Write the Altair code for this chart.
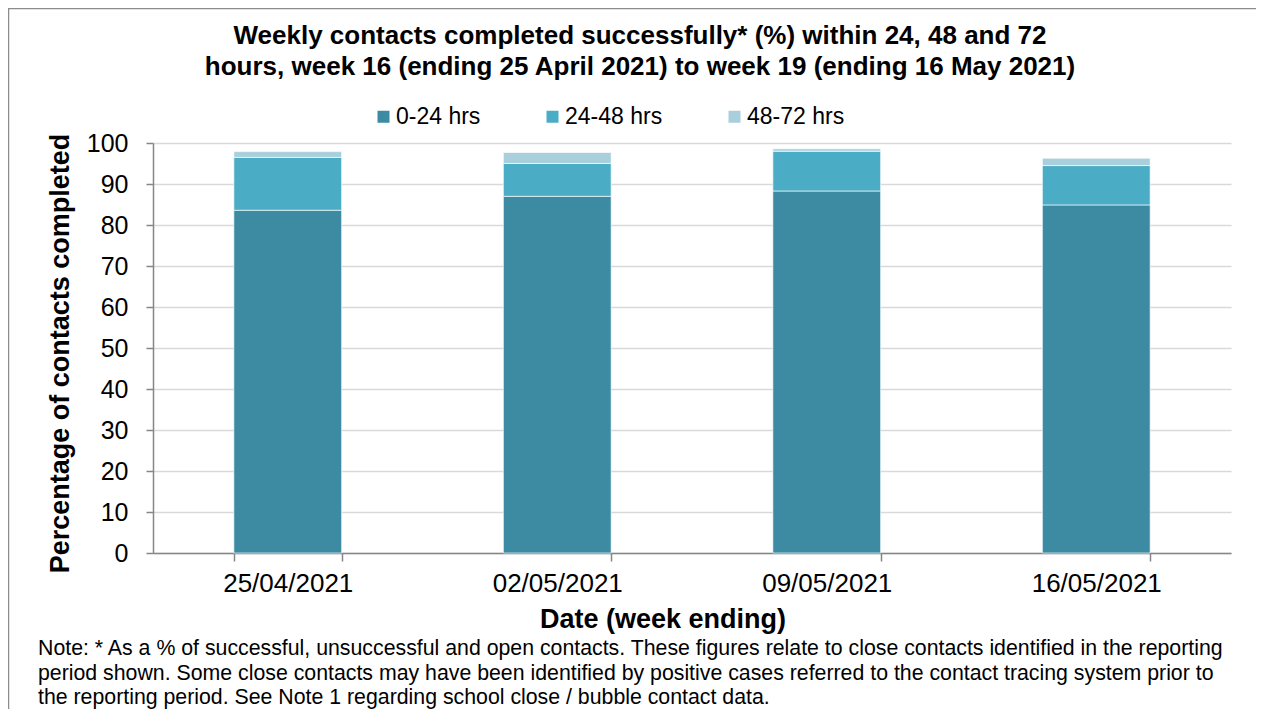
import altair as alt
import pandas as pd

weeks = ["25/04/2021", "02/05/2021", "09/05/2021", "16/05/2021"]
bands = ["0-24 hrs", "24-48 hrs", "48-72 hrs"]
v_0_24 = [83.6, 87.0, 88.3, 84.9]
v_24_48 = [12.9, 8.0, 9.7, 9.6]
v_48_72 = [1.4, 2.7, 0.6, 1.8]
colors = ["#3C8BA3", "#4BACC6", "#A9CFDD"]

title_lines = [
    "Weekly contacts completed successfully* (%) within 24, 48 and 72",
    "hours, week 16 (ending 25 April 2021) to week 19 (ending 16 May 2021)",
]
note_lines = [
    "Note: * As a % of successful, unsuccessful and open contacts. These figures relate to close contacts identified in the reporting",
    "period shown. Some close contacts may have been identified by positive cases referred to the contact tracing system prior to",
    "the reporting period. See Note 1 regarding school close / bubble contact data.",
]

FONT = "Liberation Sans"
W, H = 1078, 410

rows = []
for i, w in enumerate(weeks):
    for j, (b, vals) in enumerate(zip(bands, [v_0_24, v_24_48, v_48_72])):
        rows.append({"week": w, "band": b, "value": vals[i], "order": j})
df = pd.DataFrame(rows)

bars = alt.Chart(df).mark_bar(stroke="white", strokeWidth=0.8, strokeOpacity=0.8).encode(
    x=alt.X(
        "week:N",
        sort=weeks,
        scale=alt.Scale(paddingInner=0.6, paddingOuter=0.3),
        axis=alt.Axis(
            title="Date (week ending)",
            labelAngle=0,
            labelFontSize=26,
            labelColor="black",
            labelPadding=9,
            tickBand="extent",
            tickSize=8,
            tickColor="#868686",
            tickWidth=1.5,
            domainColor="#868686",
            domainWidth=1.5,
            titleFontSize=27,
            titleFontWeight="bold",
            titleColor="black",
            titleX=509.5,
            titleY=74,
            titleBaseline="alphabetic",
            titleAlign="center",
        ),
    ),
    y=alt.Y(
        "value:Q",
        stack="zero",
        scale=alt.Scale(domain=[0, 100], nice=False),
        axis=alt.Axis(
            title="Percentage of contacts completed",
            values=list(range(0, 101, 10)),
            labelFontSize=25,
            labelColor="black",
            labelPadding=18,
            tickSize=7,
            tickColor="#868686",
            tickWidth=1.5,
            domainColor="#868686",
            domainWidth=1.5,
            gridColor="#D9D9D9",
            gridWidth=1.5,
            titleFontSize=27,
            titleFontWeight="bold",
            titleColor="black",
            titleX=-85,
            titleY=210,
            titleAngle=-90,
            titleBaseline="alphabetic",
            titleAlign="center",
        ),
    ),
    color=alt.Color(
        "band:N",
        scale=alt.Scale(domain=bands, range=colors),
        legend=alt.Legend(
            title=None,
            orient="none",
            legendX=219,
            legendY=-38,
            direction="horizontal",
            columnPadding=60,
            symbolType="square",
            symbolSize=144,
            symbolStrokeWidth=0,
            labelFontSize=23,
            labelColor="black",
            labelOffset=1,
        ),
    ),
    order=alt.Order("order:Q"),
)

one = pd.DataFrame({"k": [0]})

note = alt.Chart(one).mark_text(
    align="left", baseline="alphabetic", fontSize=21.3, lineHeight=24.5, color="black", font=FONT
).encode(x=alt.value(-115), y=alt.value(512), text=alt.value(note_lines))

frame_top = alt.Chart(one).mark_rule(color="#8c8c8c", strokeWidth=1.5).encode(
    x=alt.value(-145), x2=alt.value(W + 30), y=alt.value(-134.5)
)
frame_left = alt.Chart(one).mark_rule(color="#8c8c8c", strokeWidth=1.5).encode(
    x=alt.value(-144.5), y=alt.value(-135), y2=alt.value(H + 160)
)

chart = (
    alt.layer(bars, note, frame_top, frame_left)
    .properties(
        width=W,
        height=H,
        autosize=alt.AutoSizeParams(type="none"),
        padding={"left": 145, "top": 135, "right": 25, "bottom": 156},
        title=alt.Title(
            text=title_lines,
            fontSize=26,
            fontWeight="bold",
            font=FONT,
            color="black",
            anchor="middle",
            frame="group",
            dx=-52,
            offset=-73,
            lineHeight=31,
        ),
    )
    .configure(font=FONT, background="white")
    .configure_view(stroke=None)
)

chart.save("out.html", embed_options={"renderer": "svg", "actions": False})
